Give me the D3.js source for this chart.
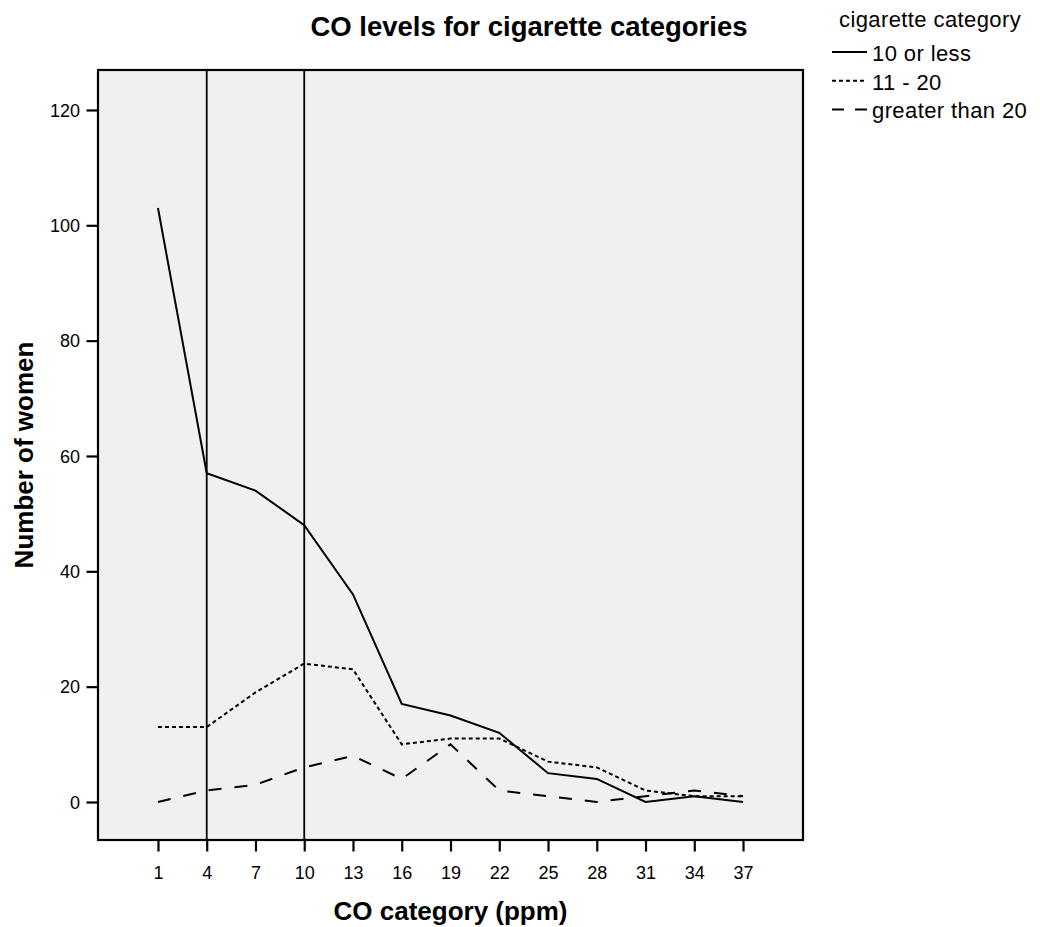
<!DOCTYPE html>
<html><head><meta charset="utf-8">
<script src="https://cdn.jsdelivr.net/npm/d3@7"></script>
<style>body{margin:0;background:#fff;} text{font-family:"Liberation Sans",Arial,sans-serif;}</style>
</head><body>
<svg id="chart" width="1040" height="927"></svg>
<script>
const categories = [1,4,7,10,13,16,19,22,25,28,31,34,37];
const seriesNames = ["10 or less","11 - 20","greater than 20"];
const tenOrLess = [103,57,54,48,36,17,15,12,5,4,0,1,0];
const elevenTo20 = [13,13,19,24,23,10,11,11,7,6,2,1,1];
const over20 = [0,2,3,6,8,4,10,2,1,0,1,2,1];
const yTicks = [0,20,40,60,80,100,120];
const refLines = [4,10];

const series = [
  {name: seriesNames[0], values: tenOrLess, dash: null, legendDash: null},
  {name: seriesNames[1], values: elevenTo20, dash: "4,3", legendDash: "4,3"},
  {name: seriesNames[2], values: over20, dash: "13,13", legendDash: "12,11"}
];

const svg = d3.select("#chart");
const L=98, R=803, T=70, B=840;
const x = d3.scaleLinear().domain([-2.69, 40.69]).range([L, R]);
const y = d3.scaleLinear().domain([-6.59, 126.93]).range([B, T]);

svg.append("rect").attr("x",L).attr("y",T).attr("width",R-L).attr("height",B-T).attr("fill","#f0f0f0");

// axes
const xAxis = d3.axisBottom(x).tickValues(categories).tickSize(11.5).tickSizeOuter(0);
const gx = svg.append("g").attr("transform",`translate(0,${B})`).call(xAxis);
gx.select(".domain").remove();
gx.selectAll("line").attr("stroke","#000").attr("stroke-width",2.2);
gx.selectAll("text").attr("font-size",18).attr("fill","#000").attr("y",39).attr("dy",0);

const yAxis = d3.axisLeft(y).tickValues(yTicks).tickSize(11.5).tickSizeOuter(0);
const gy = svg.append("g").attr("transform",`translate(${L},0)`).call(yAxis);
gy.select(".domain").remove();
gy.selectAll("line").attr("stroke","#000").attr("stroke-width",2.2);
gy.selectAll("text").attr("font-size",18).attr("fill","#000").attr("x",-18).attr("dy","0.35em");

// reference lines
svg.selectAll(".ref").data(refLines).enter().append("line")
  .attr("x1",d=>x(d)).attr("x2",d=>x(d)).attr("y1",T).attr("y2",B)
  .attr("stroke","#000").attr("stroke-width",1.8);

const line = d3.line().x((d,i)=>x(categories[i])).y(d=>y(d));
svg.selectAll(".series").data(series).enter().append("path")
  .attr("d",d=>line(d.values)).attr("fill","none").attr("stroke","#000")
  .attr("stroke-width",2).attr("stroke-dasharray",d=>d.dash);

svg.append("rect").attr("x",L).attr("y",T).attr("width",R-L).attr("height",B-T)
  .attr("fill","none").attr("stroke","#000").attr("stroke-width",2.2);

// titles
svg.append("text").attr("x",529).attr("y",36).attr("text-anchor","middle")
  .attr("font-size",27.5).attr("font-weight","bold").text("CO levels for cigarette categories");
svg.append("text").attr("x",(L+R)/2).attr("y",920).attr("text-anchor","middle")
  .attr("font-size",26).attr("font-weight","bold").text("CO category (ppm)");
svg.append("text").attr("transform",`translate(33,${(T+B)/2}) rotate(-90)`).attr("text-anchor","middle")
  .attr("font-size",26).attr("font-weight","bold").text("Number of women");

// legend
svg.append("text").attr("x",839).attr("y",27).attr("font-size",22).attr("letter-spacing",0.4).text("cigarette category");
const lg = svg.selectAll(".lg").data(series).enter().append("g")
  .attr("transform",(d,i)=>`translate(832,${61+i*28.7})`);
lg.append("line").attr("x1",0).attr("x2",35).attr("y1",-9).attr("y2",-9)
  .attr("stroke","#000").attr("stroke-width",2).attr("stroke-dasharray",d=>d.legendDash);
lg.append("text").attr("x",40).attr("y",0).attr("font-size",22).attr("letter-spacing",0.4).text(d=>d.name);
</script>
</body></html>
